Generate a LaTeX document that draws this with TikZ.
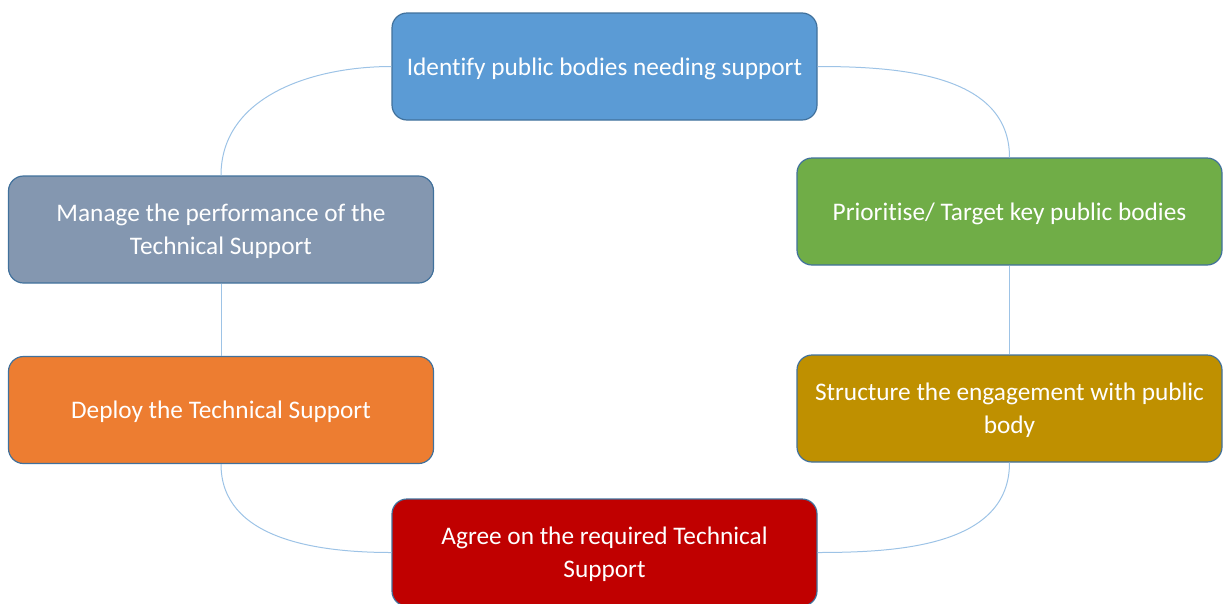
\documentclass[tikz,border=0pt]{standalone}
\usepackage{fontspec}
\setmainfont{Carlito}[Ligatures=NoCommon]
\definecolor{stepblue}{HTML}{5B9BD5}
\definecolor{stepgreen}{HTML}{70AD47}
\definecolor{stepgold}{HTML}{BF9000}
\definecolor{stepred}{HTML}{C00000}
\definecolor{stepgrey}{HTML}{8497B0}
\definecolor{steporange}{HTML}{ED7D31}
\definecolor{stepedge}{HTML}{41719C}
\definecolor{linkblue}{HTML}{9DC3E6}
\tikzset{
  stepbox/.style={draw=stepedge, line width=1.2pt, rounded corners=15pt,
    minimum width=425pt, minimum height=107pt, text=white, align=center,
    text depth=0pt, font=\fontsize{25.3}{33}\selectfont},
  link/.style={draw=linkblue, line width=1pt}
}
\begin{document}
\begin{tikzpicture}[x=1pt, y=-1pt]
    \useasboundingbox (0,0) rectangle (1229,603);
    \node [stepbox, fill=stepblue] (identify) at (604.5,66.5) {Identify public bodies needing support};
    \node [stepbox, fill=stepgreen] (prioritise) at (1009.5,211.5) {Prioritise/ Target key public bodies};
    \node [stepbox, fill=stepgold] (structure) at (1009.5,408.5) {Structure the engagement with public\\body};
    \node [stepbox, fill=stepred] (agree) at (604.5,552.5) {Agree on the required Technical\\Support};
    \node [stepbox, fill=steporange] (deploy) at (221,410) {Deploy the Technical Support};
    \node [stepbox, fill=stepgrey] (manage) at (221,229.5) {Manage the performance of the\\Technical Support};
    \draw [link] (identify.east) to[out=0, in=90] (prioritise.north);
    \draw [link] (prioritise.south) -- (structure.north);
    \draw [link] (structure.south) to[out=-90, in=0] (agree.east);
    \draw [link] (agree.west) to[out=180, in=-90] (deploy.south);
    \draw [link] (deploy.north) -- (manage.south);
    \draw [link] (manage.north) to[out=90, in=180] (identify.west);
  \end{tikzpicture}
\end{document}
